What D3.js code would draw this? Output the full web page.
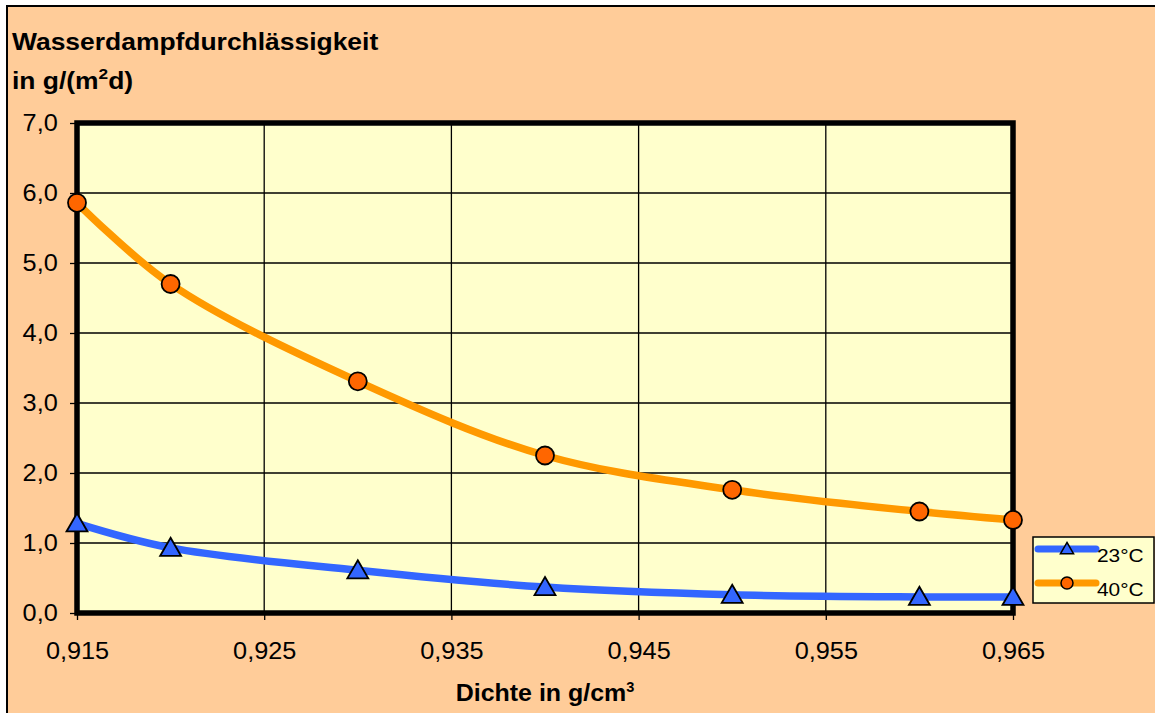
<!DOCTYPE html>
<html><head><meta charset="utf-8">
<script src="https://cdn.jsdelivr.net/npm/d3@7/dist/d3.min.js"></script>
<style>
html,body{margin:0;padding:0;background:#fff;}
svg{display:block;font-family:"Liberation Sans",Arial,sans-serif;}
</style></head>
<body>
<svg id="chart" width="1155" height="713"></svg>
<script>
// ---- data ----
const density = [0.915, 0.920, 0.930, 0.940, 0.950, 0.960, 0.965];
const t23 = [1.28, 0.93, 0.61, 0.37, 0.26, 0.23, 0.23];
const t40 = [5.86, 4.70, 3.31, 2.25, 1.76, 1.45, 1.33];
const seriesNames = ["23°C", "40°C"];
const xTicks = [0.915, 0.925, 0.935, 0.945, 0.955, 0.965];
const yTicks = [0, 1, 2, 3, 4, 5, 6, 7];

const svg = d3.select("#chart");
const W = 1155, H = 713;
const loc = d3.formatLocale({decimal: ",", thousands: ".", grouping: [3], currency: ["", "€"]});
const fx = loc.format(".3f"), fy = loc.format(".1f");
const SX = 1.1; // horizontal stretch of the chart's text

// background + outer frame
svg.append("rect").attr("x", 7).attr("y", 6).attr("width", W).attr("height", H)
  .attr("fill", "#FFCC99").attr("stroke", "#000").attr("stroke-width", 2);

const x = d3.scaleLinear().domain([0.915, 0.965]).range([77, 1013]);
const y = d3.scaleLinear().domain([0, 7]).range([613, 123]);

// plot area
svg.append("rect").attr("x", x(0.915)).attr("y", y(7))
  .attr("width", x(0.965) - x(0.915)).attr("height", y(0) - y(7))
  .attr("fill", "#FFFFCC");

// gridlines
svg.append("g").selectAll("line").data(yTicks.slice(1, -1)).join("line")
  .attr("x1", x(0.915)).attr("x2", x(0.965)).attr("y1", d => y(d)).attr("y2", d => y(d))
  .attr("stroke", "#000").attr("stroke-width", 1.3);
svg.append("g").selectAll("line").data(xTicks.slice(1, -1)).join("line")
  .attr("y1", y(0)).attr("y2", y(7)).attr("x1", d => x(d)).attr("x2", d => x(d))
  .attr("stroke", "#000").attr("stroke-width", 1.3);

// axes
const xAxis = svg.append("g").attr("transform", `translate(0,${y(0)})`)
  .call(d3.axisBottom(x).tickValues(xTicks).tickFormat(fx).tickSize(7).tickPadding(23));
const yAxis = svg.append("g").attr("transform", `translate(${x(0.915)},0)`)
  .call(d3.axisLeft(y).tickValues(yTicks).tickFormat(fy).tickSize(7).tickPadding(10.5));
[xAxis, yAxis].forEach(a => {
  a.select(".domain").remove();
  a.selectAll(".tick line").attr("stroke", "#000").attr("stroke-width", 1.3);
  a.selectAll("text").attr("font-size", 23).attr("fill", "#000")
    .attr("font-family", "'Liberation Sans', Arial, sans-serif")
    .attr("transform", `scale(${SX},1)`);
});

// thick plot border
svg.append("rect").attr("x", x(0.915)).attr("y", y(7))
  .attr("width", x(0.965) - x(0.915)).attr("height", y(0) - y(7))
  .attr("fill", "none").attr("stroke", "#000").attr("stroke-width", 5.5);

// lines
const line = d3.line().x(d => x(d[0])).y(d => y(d[1])).curve(d3.curveCatmullRom.alpha(0.5));
const d23 = density.map((d, i) => [d, t23[i]]);
const d40 = density.map((d, i) => [d, t40[i]]);
svg.append("path").attr("d", line(d23)).attr("fill", "none").attr("stroke", "#3366FF")
  .attr("stroke-width", 7.5).attr("stroke-linejoin", "round");
svg.append("path").attr("d", line(d40)).attr("fill", "none").attr("stroke", "#FF9900")
  .attr("stroke-width", 7.5).attr("stroke-linejoin", "round");

const tri = d3.symbol().type(d3.symbolTriangle);
svg.append("g").selectAll("path").data(d23).join("path")
  .attr("transform", d => `translate(${x(d[0])},${y(d[1]) + 2})`)
  .attr("d", tri.size(190)()).attr("fill", "#3366FF").attr("stroke", "#000").attr("stroke-width", 1.8);
svg.append("g").selectAll("circle").data(d40).join("circle")
  .attr("cx", d => x(d[0])).attr("cy", d => y(d[1])).attr("r", 9)
  .attr("fill", "#FF6600").attr("stroke", "#000").attr("stroke-width", 1.8);

// titles
const tg = svg.append("g").attr("transform", `translate(12,0) scale(1.15,1)`);
const t = tg.append("text").attr("font-weight", "bold").attr("font-size", 23).attr("fill", "#000");
t.append("tspan").attr("x", 0).attr("y", 50).text("Wasserdampfdurchlässigkeit");
t.append("tspan").attr("x", 0).attr("y", 89).text("in g/(m");
t.append("tspan").attr("font-size", 15).attr("dy", -10).text("2");
t.append("tspan").attr("dy", 10).text("d)");

const xg = svg.append("g").attr("transform", `translate(${(x(0.915) + x(0.965)) / 2},701) scale(1.04,1)`);
const xt = xg.append("text").attr("x", 0).attr("y", 0)
  .attr("text-anchor", "middle").attr("font-weight", "bold").attr("font-size", 24).attr("fill", "#000");
xt.append("tspan").text("Dichte in g/cm");
xt.append("tspan").attr("font-size", 14).attr("dy", -9).text("3");

// legend
const lg = svg.append("g");
lg.append("rect").attr("x", 1033).attr("y", 537).attr("width", 121).attr("height", 66)
  .attr("fill", "#FFFFCC").attr("stroke", "#000").attr("stroke-width", 1.5);
const legendItems = [
  {name: seriesNames[0], color: "#3366FF", mk: "#3366FF", type: "tri", yy: 549},
  {name: seriesNames[1], color: "#FF9900", mk: "#FF6600", type: "circ", yy: 583}
];
legendItems.forEach(it => {
  lg.append("line").attr("x1", 1038).attr("x2", 1096).attr("y1", it.yy).attr("y2", it.yy)
    .attr("stroke", it.color).attr("stroke-width", 7).attr("stroke-linecap", "round");
  if (it.type === "tri") {
    lg.append("path").attr("transform", `translate(1067,${it.yy + 1})`)
      .attr("d", d3.symbol().type(d3.symbolTriangle).size(75)()).attr("fill", it.mk)
      .attr("stroke", "#000").attr("stroke-width", 1.5);
  } else {
    lg.append("circle").attr("cx", 1067).attr("cy", it.yy).attr("r", 6)
      .attr("fill", it.mk).attr("stroke", "#000").attr("stroke-width", 1.5);
  }
  lg.append("g").attr("transform", `translate(1097,${it.yy + 13}) scale(1.1,1)`)
    .append("text").attr("font-size", 19).attr("fill", "#000").text(it.name);
});
</script>
</body></html>
